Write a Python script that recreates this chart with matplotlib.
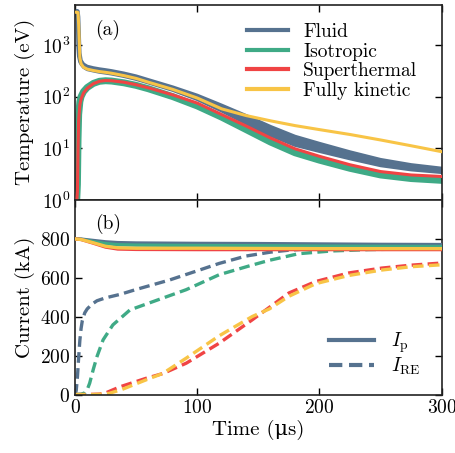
import matplotlib
matplotlib.use('Agg')
import matplotlib.pyplot as plt
from matplotlib.lines import Line2D
from matplotlib.ticker import NullLocator, FixedLocator

# ---------------- data ----------------
models = ['Fluid', 'Isotropic', 'Superthermal', 'Fully kinetic']
colors = ['#56728F', '#3FAA86', '#F04444', '#F8C446']

# Temperature panel (eV)
t_T = [0, 1, 2, 2.5, 3, 4, 5, 7, 10, 15, 20, 25, 30, 40, 50, 60, 80, 100,
       120, 140, 160, 180, 200, 225, 250, 275, 300]
fluid_T_hi = [4600, 4600, 4600, 4500, 3500, 700, 500, 425, 385, 360, 343, 330,
              316, 284, 250, 212, 153, 106, 68, 42.8, 26.3, 17.0, 12.4, 8.5,
              6.05, 4.8, 4.1]
fluid_T_lo = [4000, 4000, 3000, 900, 600, 470, 425, 370, 335, 315, 298, 287,
              275, 247, 217, 185, 133, 88.5, 53, 30.3, 17.8, 11.5, 8.75, 6.3,
              4.64, 3.85, 3.42]
iso_T = [0.5, 0.6, 2.0, 15, 45, 80, 100, 125, 150, 180, 198, 203, 200, 185,
         165, 142, 100, 66, 40, 23, 13.2, 8.2, 5.9, 4.1, 3.05, 2.6, 2.4]
super_T = [0.5, 0.6, 1.5, 10, 35, 70, 90, 118, 145, 178, 198, 205, 203, 190,
           170, 148, 108, 75, 45, 27, 15.8, 9.8, 7.0, 4.8, 3.55, 3.05, 2.85]
kin_T = [4300, 4300, 4300, 4200, 2500, 560, 430, 370, 340, 320, 305, 295, 283,
         255, 225, 190, 138, 94, 58, 43, 34, 27.5, 23, 18.5, 14.5, 11.2, 8.6]

# Plasma current (kA)
t_Ip = [0, 5, 15, 25, 35, 50, 100, 150, 200, 250, 300]
Ip_fluid = [800, 799, 792, 785, 781, 779, 777, 776, 774, 772, 771]
Ip_iso = [800, 798, 786, 776, 770, 768, 766, 765, 763, 762, 761]
Ip_super = [800, 797, 778, 758, 748, 746, 745, 745, 745, 745, 745]
Ip_kin = [800, 797, 780, 762, 754, 752, 752, 751, 750, 750, 750]

# Runaway current (kA)
t_RE_fluid = [0, 1, 2, 3, 4, 5, 6, 8, 10, 14, 18, 25, 37, 50, 77, 100, 118,
              140, 160, 175, 200, 225, 250, 300]
RE_fluid = [0, 20, 90, 190, 280, 340, 380, 420, 440, 465, 482, 497, 515, 540,
            588, 636, 674, 712, 732, 742, 752, 755, 757, 758]
t_RE_iso = [0, 5, 8, 10, 12, 15, 18, 23, 31, 45, 64, 91, 118, 143, 159, 183,
            210, 240, 270, 300]
RE_iso = [0, 2, 8, 25, 58, 130, 195, 281, 358, 435, 478, 539, 616, 662, 690,
          724, 738, 745, 748, 750]
t_RE_super = [0, 10, 20, 25, 37, 58, 72, 91, 118, 145, 159, 175, 197, 224,
              251, 275, 300]
RE_super = [0, 0, 2, 8, 40, 83, 108, 161, 264, 384, 448, 522, 581, 625, 650,
            665, 676]
t_RE_kin = [0, 15, 22, 28, 38, 50, 58, 72, 91, 118, 145, 159, 175, 197, 224,
            251, 275, 300]
RE_kin = [0, 0, 2, 6, 25, 55, 75, 109, 187, 302, 401, 440, 505, 570, 612,
          640, 657, 667]

# ---------------- style ----------------
plt.rcParams.update({
    'font.family': ['cmr10', 'DejaVu Serif'],
    'mathtext.fontset': 'cm',
    'axes.formatter.use_mathtext': True,
    'axes.unicode_minus': False,
    'font.size': 14,
    'axes.labelsize': 15,
    'xtick.direction': 'in', 'ytick.direction': 'in',
    'xtick.top': True, 'ytick.right': True,
    'xtick.major.size': 5, 'ytick.major.size': 5,
    'xtick.major.width': 1.0, 'ytick.major.width': 1.0,
    'axes.linewidth': 1.2,
    'axes.edgecolor': '#222222',
})

fig = plt.figure(figsize=(4.55, 4.53), dpi=100)
axT = fig.add_axes([0.1648, 0.5585, 0.806, 0.4311])
axI = fig.add_axes([0.1648, 0.1291, 0.806, 0.4294], sharex=axT)

# ---- top panel ----
cF, cI, cS, cK = colors
axT.fill_between(t_T, fluid_T_lo, fluid_T_hi, color=cF, lw=0, zorder=2)
axT.plot(t_T, fluid_T_hi, color=cF, lw=2.4, zorder=2)
axT.plot(t_T, fluid_T_lo, color=cF, lw=2.4, zorder=2)
axT.plot(t_T, iso_T, color=cI, lw=5.0, zorder=2.5)
axT.plot(t_T, super_T, color=cS, lw=2.2, zorder=3)
axT.plot(t_T, kin_T, color=cK, lw=2.2, zorder=3.5)

axT.set_yscale('log')
axT.set_ylim(1, 6000)
axT.set_xlim(0, 300)
axT.yaxis.set_major_locator(FixedLocator([1, 10, 100, 1000]))
axT.yaxis.set_minor_locator(NullLocator())
axT.set_ylabel('Temperature (eV)')
axT.tick_params(labelbottom=False)
axT.text(0.055, 0.87, '(a)', transform=axT.transAxes, va='center', ha='left')

handles = [Line2D([], [], color=c, lw=3) for c in colors]
axT.legend(handles, models, loc='upper right', frameon=False,
           handlelength=2.1, handletextpad=0.8, labelspacing=0.08,
           bbox_to_anchor=(0.965, 0.965), borderaxespad=0.2)

# ---- bottom panel ----
dash = (3.2, 1.6)
for tr, ir, c in zip([t_RE_fluid, t_RE_iso, t_RE_super, t_RE_kin],
                     [RE_fluid, RE_iso, RE_super, RE_kin], colors):
    axI.plot(tr, ir, color=c, lw=2.4, ls=(0, dash), zorder=2)
for ip, c in zip([Ip_fluid, Ip_iso, Ip_super, Ip_kin], colors):
    axI.plot(t_Ip, ip, color=c, lw=2.4, zorder=3)

axI.set_ylim(0, 1000)
axI.set_xlim(0, 300)
axI.yaxis.set_major_locator(FixedLocator([0, 200, 400, 600, 800]))
axI.xaxis.set_major_locator(FixedLocator([0, 100, 200, 300]))
axI.set_ylabel('Current (kA)')
axI.set_xlabel('Time (μs)', labelpad=2)
axI.text(0.055, 0.877, '(b)', transform=axI.transAxes, va='center', ha='left')

lh = [Line2D([], [], color=cF, lw=3),
      Line2D([], [], color=cF, lw=3, ls=(0, (3.2, 1.6)))]
axI.legend(lh, [r'$I_\mathrm{p}$', r'$I_\mathrm{RE}$'], loc='lower right',
           frameon=False, handlelength=2.3, handletextpad=0.9,
           labelspacing=0.05, bbox_to_anchor=(0.99, 0.0))

axT.yaxis.set_label_coords(-0.11, 0.5)
axI.yaxis.set_label_coords(-0.11, 0.5)

fig.savefig('out.png', dpi=100)
